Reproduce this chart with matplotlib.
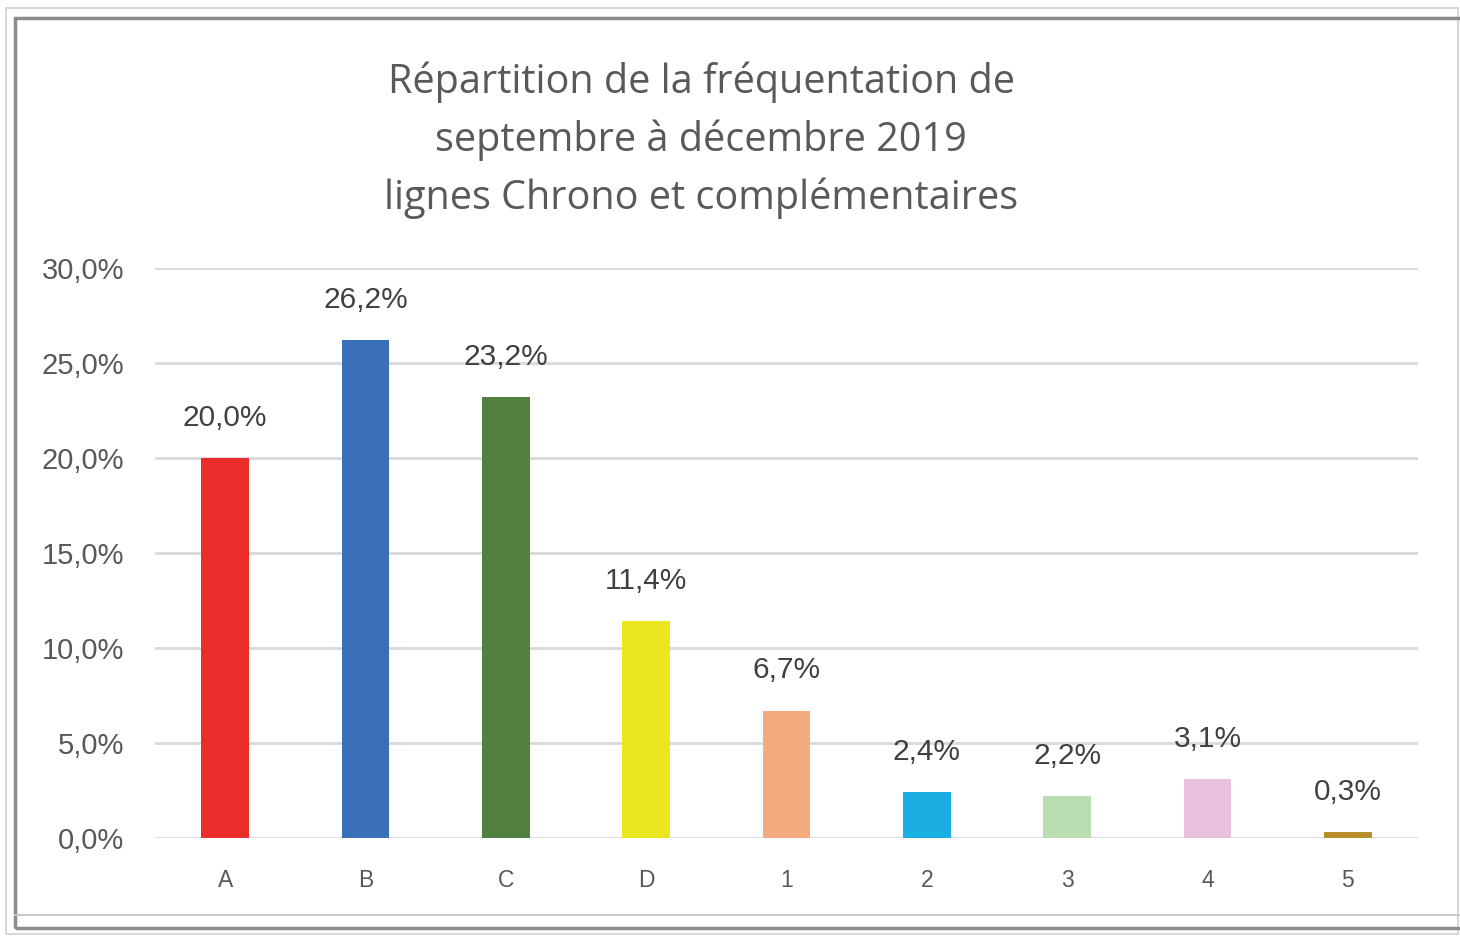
import numpy as np
import matplotlib
matplotlib.use("Agg")
import matplotlib.pyplot as plt
from matplotlib.patches import Rectangle

lignes = ["A", "B", "C", "D", "1", "2", "3", "4", "5"]
part = [20.0, 26.2, 23.2, 11.4, 6.7, 2.4, 2.2, 3.1, 0.3]
couleurs = ["#EC2B2B", "#3A70B8", "#528041", "#EAE61F", "#F4AB80",
            "#1BAEE2", "#BADDB1", "#E8C1DC", "#B88F2A"]
yticks = [0, 5, 10, 15, 20, 25, 30]

fig = plt.figure(figsize=(14.6, 9.36), dpi=100)
fig.patch.set_facecolor("white")

# cadre autour du graphique
fig.patches.append(Rectangle((6 / 1460, 1 - 934 / 936), 1452 / 1460, 926 / 936,
                             transform=fig.transFigure, fill=False,
                             edgecolor="#D0D0D0", lw=1.2))
fig.patches.append(Rectangle((15 / 1460, 1 - 928 / 936), 1450 / 1460, 910 / 936,
                             transform=fig.transFigure, fill=False,
                             edgecolor="#8C8C8C", lw=2.5))
fig.lines.append(plt.Line2D([15 / 1460, 1], [1 - 915 / 936, 1 - 915 / 936],
                            transform=fig.transFigure, color="#C8C8C8", lw=1.5))

ax = fig.add_axes([155 / 1460, 1 - 838 / 936, 1263 / 1460, 570 / 936])
x = np.arange(len(lignes))
ax.bar(x, part, width=0.34, color=couleurs, zorder=3)

ax.set_xlim(-0.5, len(lignes) - 0.5)
ax.set_ylim(0, 30)
ax.set_yticks(yticks)
ax.set_yticklabels([f"{v:.1f}".replace(".", ",") + "%" for v in yticks])
ax.set_xticks(x)
ax.set_xticklabels(lignes)
ax.grid(axis="y", color="#D9D9D9", lw=2, zorder=0)
for s in ax.spines.values():
    s.set_visible(False)
ax.tick_params(axis="both", length=0)
ax.tick_params(axis="y", pad=22, labelsize=21, labelcolor="#595959")
ax.tick_params(axis="x", pad=22, labelsize=16.5, labelcolor="#595959")
for t in ax.get_yticklabels() + ax.get_xticklabels():
    t.set_fontfamily("Liberation Sans")

for xi, v in zip(x, part):
    ax.annotate(f"{v:.1f}".replace(".", ",") + "%", (xi, v), xytext=(0, 29),
                textcoords="offset points", ha="center", va="center",
                fontsize=21.5, color="#404040", family="Liberation Sans")

titre = ["Répartition de la fréquentation de",
         "septembre à décembre 2019",
         "lignes Chrono et complémentaires"]
for i, ligne in enumerate(titre):
    fig.text(701 / 1460, 1 - (82 + 58 * i) / 936, ligne, ha="center", va="center",
             fontsize=28.5, color="#595959", family="Open Sans")

fig.savefig("out.png", dpi=100)
